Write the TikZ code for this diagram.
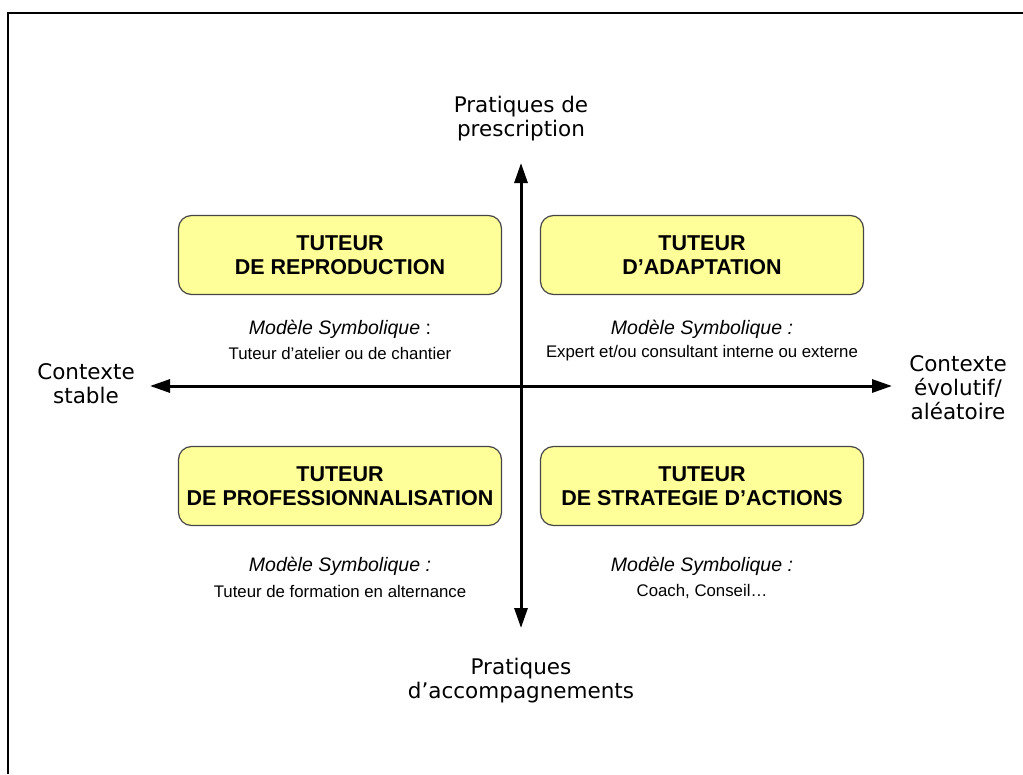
\documentclass[tikz,border=0pt]{standalone}
\usepackage{fontspec}
\setmainfont{Liberation Sans}
\newfontfamily\axisfont{DejaVu Sans}
\usetikzlibrary{arrows.meta}
\definecolor{boxfill}{RGB}{255,255,153}
\definecolor{boxline}{RGB}{70,70,70}
\tikzset{
  quad/.style={draw=boxline, line width=1.2pt, fill=boxfill, rounded corners=13pt,
    minimum width=323pt, minimum height=79pt, align=center,
    font=\fontsize{21.5}{24.5}\selectfont\bfseries, inner sep=0pt},
  axislbl/.style={align=center, font=\axisfont\fontsize{21.5}{24}\selectfont, inner sep=0pt},
  modtitle/.style={font=\fontsize{19.5}{22}\selectfont\itshape, inner sep=0pt},
  modtext/.style={font=\fontsize{16.8}{19}\selectfont, inner sep=0pt},
  axisline/.style={line width=3pt, -{Triangle[length=20pt,width=13pt]}},
}
\begin{document}
\begin{tikzpicture}[x=1pt,y=-1pt]
\useasboundingbox (0,0) rectangle (1023,774);
% frame
\draw[line width=2.2pt] (8,774) -- (8,13.3) -- (1023,13.3);
% axes
\coordinate (c) at (521,386);
\coordinate (top) at (521,163);
\coordinate (bot) at (521,628);
\coordinate (lft) at (150,386);
\coordinate (rgt) at (892,386);
\draw[axisline] (c) -- (top);
\draw[axisline] (c) -- (bot);
\draw[axisline] (c) -- (lft);
\draw[axisline] (c) -- (rgt);
% boxes
\node[quad] (tl) at (340,255) {TUTEUR\\DE REPRODUCTION};
\node[quad] (tr) at (702,255) {TUTEUR\\D’ADAPTATION};
\node[quad] (bl) at (340,486) {TUTEUR\\DE PROFESSIONNALISATION};
\node[quad] (br) at (702,486) {TUTEUR\\DE STRATEGIE D’ACTIONS};
% model texts
\node[modtitle] (tlm) at (340,329) {Modèle Symbolique\upshape\ :};
\node[modtext] (tlt) at (340,353) {Tuteur d’atelier ou de chantier};
\node[modtitle] (trm) at (702,329) {Modèle Symbolique :};
\node[modtext] (trt) at (702,353) {Expert et/ou consultant interne ou externe};
\node[modtitle] (blm) at (340,566) {Modèle Symbolique :};
\node[modtext] (blt) at (340,591) {Tuteur de formation en alternance};
\node[modtitle] (brm) at (702,566) {Modèle Symbolique :};
\node[modtext] (brt) at (702,591) {Coach, Conseil…};
% axis labels
\node[axislbl] (lt) at (521,119) {Pratiques de\\prescription};
\node[axislbl] (lb) at (521,681) {Pratiques\\d’accompagnements};
\node[axislbl] (ll) at (86,384) {Contexte\\stable};
\node[axislbl] (lr) at (958,388) {Contexte\\évolutif/\\aléatoire};
\end{tikzpicture}
\end{document}
